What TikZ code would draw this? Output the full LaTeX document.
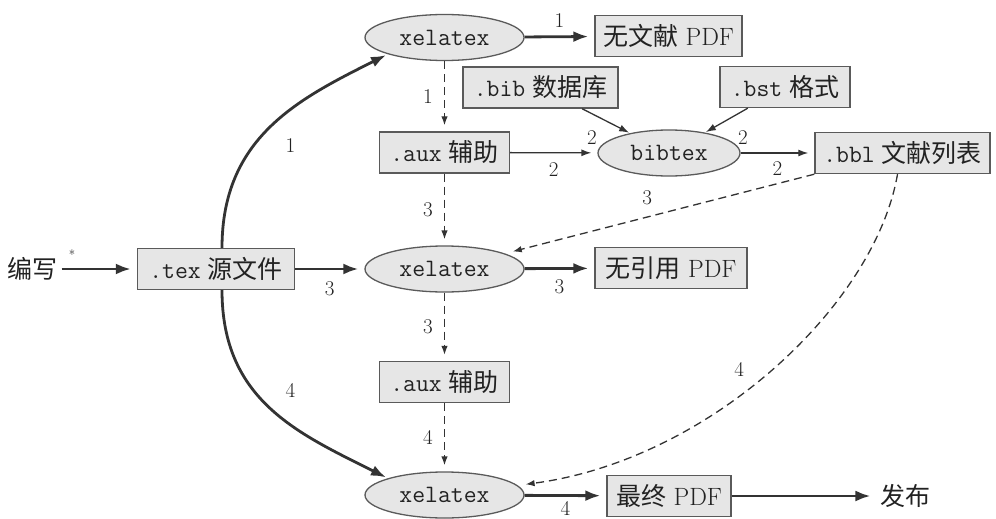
\documentclass[tikz,border=0pt]{standalone}
\usepackage{fontspec}
\newfontfamily\cjk{Noto Sans CJK SC}
\usetikzlibrary{shapes.geometric,arrows.meta}
\definecolor{ln}{HTML}{333333}
\definecolor{bd}{HTML}{5A5A5A}
\definecolor{fl}{HTML}{E6E6E6}
\definecolor{tx}{HTML}{222222}
\newcommand{\gapsp}{\hspace{7pt}}
\begin{document}
\begin{tikzpicture}[x=1pt,y=-1pt,
  every node/.style={text=tx, font=\fontsize{25}{30}\selectfont},
  filebox/.style={draw=bd, fill=fl, line width=1.4pt, rectangle, inner sep=0pt, minimum height=41pt},
  prog/.style={draw=bd, fill=fl, line width=1.3pt, ellipse, inner sep=0pt, minimum width=159pt, minimum height=46pt},
  lab/.style={font=\fontsize{21}{24}\selectfont, inner sep=1pt},
  bigarrow/.style={draw=ln, line width=2.8pt, -{Latex[length=15pt,width=11pt]}, shorten >=6pt},
  thinarrow/.style={draw=ln, line width=1.3pt, -{Latex[length=10pt,width=7pt]}, shorten >=6pt},
  dasharrow/.style={draw=ln, line width=1.3pt, dash pattern=on 8pt off 5pt, -{Latex[length=9pt,width=6.5pt]}, shorten >=6pt},
]
\useasboundingbox (0,0) rectangle (996,519);

% nodes
\node[prog] (xe1) at (444.5,37.5) {\ttfamily xelatex};
\node[filebox, minimum width=147pt] (nowx) at (668.5,36) {{\cjk 无文献} PDF};
\node[filebox, minimum width=155pt] (bib) at (540.5,87.5) {\ttfamily .bib\gapsp{\cjk 数据库}};
\node[filebox, minimum width=130pt] (bst) at (785,87) {\ttfamily .bst\gapsp{\cjk 格式}};
\node[filebox, minimum width=130pt] (aux1) at (444.5,152.5) {\ttfamily .aux\gapsp{\cjk 辅助}};
\node[prog, minimum width=142pt] (bibtex) at (669,153) {\ttfamily bibtex};
\node[filebox, minimum width=175pt] (bbl) at (902.5,153) {\ttfamily .bbl\gapsp{\cjk 文献列表}};
\node[filebox, minimum width=157pt] (tex) at (216,269) {\ttfamily .tex\gapsp{\cjk 源文件}};
\node[prog] (xe2) at (444.5,269) {\ttfamily xelatex};
\node[filebox, minimum width=152pt] (nocite) at (671,268) {{\cjk 无引用} PDF};
\node[filebox, minimum width=130pt] (aux2) at (444.5,382) {\ttfamily .aux\gapsp{\cjk 辅助}};
\node[prog] (xe3) at (444.5,495) {\ttfamily xelatex};
\node[filebox, minimum width=124pt] (final) at (669,496) {{\cjk 最终} PDF};
\node (write) at (33,269) {\cjk 编写};
\node[font=\fontsize{13}{13}\selectfont] (star) at (72,255) {*};
\node (pub) at (905,496) {\cjk 发布};

% thick arrows
\draw[bigarrow] (write) -- (tex);
\draw[bigarrow] (xe1) -- node[lab, above=7pt]{1} (nowx);
\draw[bigarrow] (tex) -- node[lab, below=10pt]{3} (xe2);
\draw[bigarrow] (xe2) -- node[lab, below=9pt]{3} (nocite);
\draw[bigarrow] (xe3) -- node[lab, below=4pt]{4} (final);
\draw[bigarrow] (final) -- (pub);
\draw[bigarrow, shorten >=2pt] ([xshift=6pt]tex.north) .. controls +(0,-110) and +(-90,45) .. (xe1.south west) node[lab, pos=0.4, xshift=36pt]{1};
\draw[bigarrow, shorten >=2pt] ([xshift=6pt]tex.south) .. controls +(0,110) and +(-90,-45) .. (xe3.north west) node[lab, pos=0.4, xshift=36pt]{4};

% thin arrows
\draw[thinarrow] (aux1) -- node[lab, below=8pt]{2} (bibtex);
\draw[thinarrow] (bibtex) -- node[lab, below=7pt]{2} (bbl);
\draw[thinarrow, shorten >=1pt] (bib) -- (bibtex) node[lab, pos=1, xshift=-38pt, yshift=-4pt]{2};
\draw[thinarrow, shorten >=1pt] (bst) -- (bibtex) node[lab, pos=1, xshift=38pt, yshift=-5pt]{2};

% dashed arrows
\draw[dasharrow] (xe1) -- node[lab, left=10pt]{1} (aux1);
\draw[dasharrow] (aux1) -- node[lab, left=10pt]{3} (xe2);
\draw[dasharrow] (xe2) -- node[lab, left=10pt]{3} (aux2);
\draw[dasharrow] (aux2) -- node[lab, left=10pt]{4} (xe3);
\draw[dasharrow, shorten >=8pt] (bbl.south west) -- node[lab, pos=0.54, yshift=19pt]{3} (xe2);
\draw[dasharrow, shorten >=8pt] ([xshift=-5pt]bbl.south) .. controls (875,305) and (710,460) .. (xe3) node[lab, pos=0.5, xshift=-32pt]{4};
\end{tikzpicture}
\end{document}
